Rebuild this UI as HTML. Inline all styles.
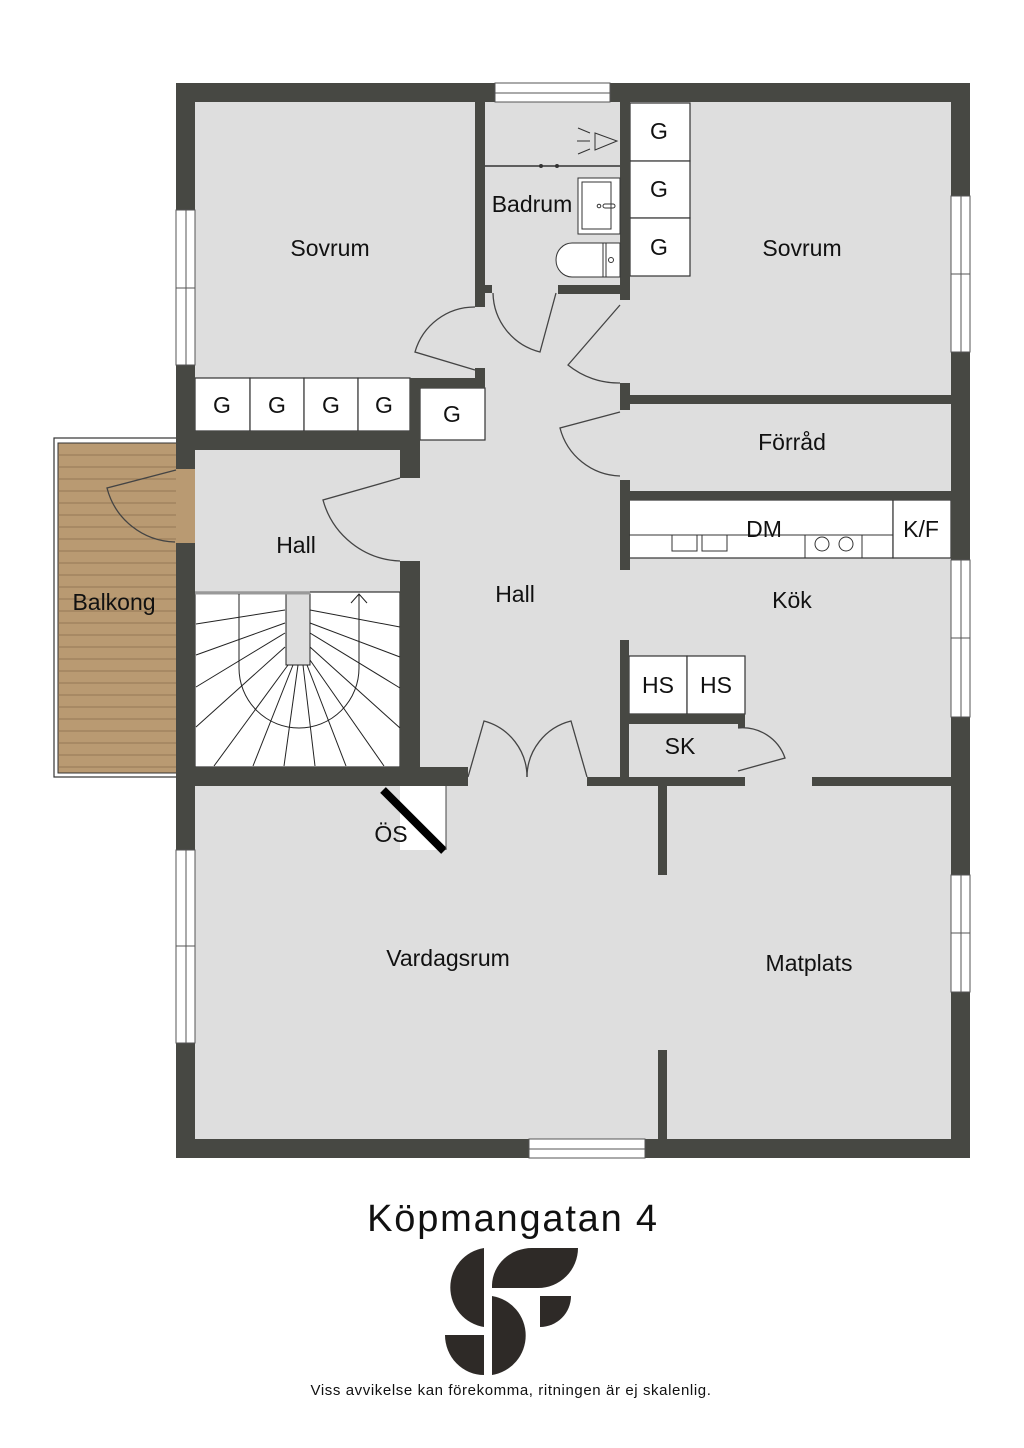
<!DOCTYPE html>
<html><head><meta charset="utf-8"><style>
html,body{margin:0;padding:0;background:#fff;}
svg{display:block}
text{font-family:"Liberation Sans",sans-serif;fill:#111}
</style></head><body>
<svg width="1024" height="1448" viewBox="0 0 1024 1448" xmlns="http://www.w3.org/2000/svg">
<rect width="1024" height="1448" fill="#fff"/>
<!-- balcony -->
<rect x="54" y="438" width="131" height="339" fill="#fff" stroke="#333" stroke-width="1.2"/>
<rect x="58" y="443" width="127" height="330" fill="#b99a72" stroke="#333" stroke-width="1"/>
<g stroke="#8a6d4c" stroke-width="0.8">
<line x1="58" y1="455" x2="185" y2="455"/><line x1="58" y1="467" x2="185" y2="467"/><line x1="58" y1="479" x2="185" y2="479"/><line x1="58" y1="491" x2="185" y2="491"/><line x1="58" y1="503" x2="185" y2="503"/><line x1="58" y1="515" x2="185" y2="515"/><line x1="58" y1="527" x2="185" y2="527"/><line x1="58" y1="539" x2="185" y2="539"/><line x1="58" y1="551" x2="185" y2="551"/><line x1="58" y1="563" x2="185" y2="563"/><line x1="58" y1="575" x2="185" y2="575"/><line x1="58" y1="587" x2="185" y2="587"/><line x1="58" y1="599" x2="185" y2="599"/><line x1="58" y1="611" x2="185" y2="611"/><line x1="58" y1="623" x2="185" y2="623"/><line x1="58" y1="635" x2="185" y2="635"/><line x1="58" y1="647" x2="185" y2="647"/><line x1="58" y1="659" x2="185" y2="659"/><line x1="58" y1="671" x2="185" y2="671"/><line x1="58" y1="683" x2="185" y2="683"/><line x1="58" y1="695" x2="185" y2="695"/><line x1="58" y1="707" x2="185" y2="707"/><line x1="58" y1="719" x2="185" y2="719"/><line x1="58" y1="731" x2="185" y2="731"/><line x1="58" y1="743" x2="185" y2="743"/><line x1="58" y1="755" x2="185" y2="755"/><line x1="58" y1="767" x2="185" y2="767"/>
</g>
<!-- floor -->
<rect x="176" y="83" width="794" height="1075" fill="#dedede"/>
<!-- white items -->
<g fill="#fff" stroke="#333" stroke-width="1.2">
<rect x="195" y="378" width="55" height="53"/><rect x="250" y="378" width="54" height="53"/><rect x="304" y="378" width="54" height="53"/><rect x="358" y="378" width="52" height="53"/>
<rect x="420" y="388" width="65" height="52"/>
<rect x="630" y="103" width="60" height="58"/><rect x="630" y="161" width="60" height="57"/><rect x="630" y="218" width="60" height="58"/>
<rect x="629" y="500" width="264" height="58"/><rect x="893" y="500" width="58" height="58"/>
<rect x="629" y="656" width="58" height="58"/><rect x="687" y="656" width="58" height="58"/>
<rect x="195" y="592" width="205" height="175"/>
<rect x="400" y="786" width="46" height="64" stroke="none"/>
</g>
<!-- walls -->
<g fill="#474843">
<rect x="176" y="83" width="794" height="19"/>
<rect x="176" y="1139" width="794" height="19"/>
<rect x="176" y="83" width="19" height="1075"/>
<rect x="951" y="83" width="19" height="1075"/>
<rect x="475" y="102" width="10" height="205"/>
<rect x="475" y="368" width="10" height="20"/>
<rect x="485" y="285" width="7" height="8"/>
<rect x="558" y="285" width="62" height="9"/>
<rect x="620" y="102" width="10" height="198"/>
<rect x="620" y="383" width="10" height="27"/>
<rect x="620" y="395" width="331" height="9"/>
<rect x="620" y="480" width="10" height="90"/>
<rect x="620" y="491" width="331" height="9"/>
<rect x="410" y="378" width="75" height="10"/>
<rect x="410" y="378" width="10" height="72"/>
<rect x="176" y="431" width="244" height="19"/>
<rect x="400" y="431" width="20" height="47"/>
<rect x="400" y="561" width="20" height="225"/>
<rect x="176" y="767" width="292" height="19"/>
<rect x="587" y="777" width="158" height="9"/>
<rect x="812" y="777" width="139" height="9"/>
<rect x="620" y="640" width="9" height="146"/>
<rect x="629" y="714" width="116" height="10"/>
<rect x="738" y="714" width="7" height="14"/>
<rect x="658" y="786" width="9" height="89"/>
<rect x="658" y="1050" width="9" height="89"/>
</g>
<!-- windows & openings -->
<g fill="#fff" stroke="#555" stroke-width="1">
<rect x="495" y="83" width="115" height="19"/><line x1="495" y1="93" x2="610" y2="93"/>
<rect x="529" y="1139" width="116" height="19"/><line x1="529" y1="1149" x2="645" y2="1149"/>
<rect x="176" y="210" width="19" height="155"/><line x1="186" y1="210" x2="186" y2="365"/><line x1="176" y1="288" x2="195" y2="288"/>
<rect x="176" y="850" width="19" height="193"/><line x1="186" y1="850" x2="186" y2="1043"/><line x1="176" y1="946" x2="195" y2="946"/>
<rect x="951" y="196" width="19" height="156"/><line x1="961" y1="196" x2="961" y2="352"/><line x1="951" y1="274" x2="970" y2="274"/>
<rect x="951" y="560" width="19" height="157"/><line x1="961" y1="560" x2="961" y2="717"/><line x1="951" y1="638" x2="970" y2="638"/>
<rect x="951" y="875" width="19" height="117"/><line x1="961" y1="875" x2="961" y2="992"/><line x1="951" y1="933" x2="970" y2="933"/>
</g>
<rect x="176" y="469" width="19" height="74" fill="#b99a72"/>
<rect x="176" y="450" width="9" height="19" fill="#474843"/>
<!-- doors -->
<g fill="none" stroke="#444" stroke-width="1.3">
<path d="M475,370 L415,352 A62,62 0 0 1 475,307"/>
<path d="M556,293 L540,352 A62,62 0 0 1 493,293"/>
<path d="M620,305 L568,365 A80,80 0 0 0 620,383"/>
<path d="M620,412 L560,428 A64,64 0 0 0 620,476"/>
<path d="M400,478 L323,500 A83,83 0 0 0 400,561"/>
<path d="M176,470 L107,488 A72,72 0 0 0 175,542"/>
<path d="M468,777 L484,721 A58,58 0 0 1 527,777"/>
<path d="M587,777 L571,721 A58,58 0 0 0 527,777"/>
<path d="M738,771 L785,758 A45,45 0 0 0 738,728"/>
</g>
<!-- stairs -->
<g fill="none" stroke="#222" stroke-width="1">
<rect x="286" y="594" width="24" height="71" fill="#dedede"/>
<line x1="195" y1="593" x2="310" y2="593" stroke-width="3" stroke="#999"/>
<path d="M239,594 L239,668 A60,60 0 0 0 359,668 L359,594"/>
<path d="M351,603 L359,594 L367,603"/>
<line x1="285" y1="610" x2="196" y2="624"/><line x1="285" y1="623" x2="196" y2="655"/><line x1="285" y1="633" x2="196" y2="687"/><line x1="285" y1="647" x2="196" y2="727"/>
<line x1="288" y1="665" x2="214" y2="766"/><line x1="293" y1="665" x2="253" y2="766"/><line x1="298" y1="665" x2="284" y2="766"/><line x1="303" y1="665" x2="315" y2="766"/><line x1="307" y1="665" x2="346" y2="766"/><line x1="310" y1="660" x2="384" y2="766"/>
<line x1="310" y1="610" x2="400" y2="627"/><line x1="310" y1="623" x2="400" y2="657"/><line x1="310" y1="633" x2="400" y2="688"/><line x1="310" y1="647" x2="400" y2="728"/>
</g>
<!-- ÖS -->
<line x1="383" y1="790" x2="444" y2="851" stroke="#000" stroke-width="8"/>
<line x1="446" y1="786" x2="446" y2="850" stroke="#444" stroke-width="1"/>
<!-- bathroom fixtures -->
<g fill="none" stroke="#333" stroke-width="1">
<line x1="485" y1="166" x2="620" y2="166" stroke-width="1.5"/>
<circle cx="541" cy="166" r="1.5" fill="#333"/><circle cx="557" cy="166" r="1.5" fill="#333"/>
<path d="M595,133 L595,150 L617,141 Z"/>
<line x1="578" y1="128" x2="590" y2="133"/><line x1="577" y1="141" x2="590" y2="141"/><line x1="578" y1="154" x2="590" y2="149"/>
<rect x="578" y="178" width="42" height="56" fill="#fff"/><rect x="582" y="182" width="29" height="47"/>
<circle cx="599" cy="206" r="1.8"/><rect x="603" y="204" width="12" height="4" rx="2"/>
<path d="M620,243 L572,243 A16,17 0 0 0 572,277 L620,277 Z" fill="#fff"/>
<line x1="603" y1="243" x2="603" y2="277"/><line x1="606" y1="243" x2="606" y2="277"/><circle cx="611" cy="260" r="2.5"/>
<line x1="629" y1="535" x2="893" y2="535"/>
<rect x="672" y="535" width="25" height="16"/><rect x="702" y="535" width="25" height="16"/>
<line x1="805" y1="535" x2="805" y2="558"/><line x1="862" y1="535" x2="862" y2="558"/>
<circle cx="822" cy="544" r="7"/><circle cx="846" cy="544" r="7"/>
</g>
<!-- labels -->
<g font-size="23" text-anchor="middle">
<text x="330" y="256">Sovrum</text>
<text x="532" y="212">Badrum</text>
<text x="802" y="256">Sovrum</text>
<text x="792" y="450">Förråd</text>
<text x="764" y="537">DM</text>
<text x="921" y="537">K/F</text>
<text x="296" y="553">Hall</text>
<text x="515" y="602">Hall</text>
<text x="114" y="610">Balkong</text>
<text x="792" y="608">Kök</text>
<text x="658" y="693">HS</text>
<text x="716" y="693">HS</text>
<text x="680" y="754">SK</text>
<text x="391" y="842">ÖS</text>
<text x="448" y="966">Vardagsrum</text>
<text x="809" y="971">Matplats</text>
<text x="222" y="413">G</text><text x="277" y="413">G</text><text x="331" y="413">G</text><text x="384" y="413">G</text>
<text x="452" y="422">G</text>
<text x="659" y="139">G</text><text x="659" y="197">G</text><text x="659" y="255">G</text>
</g>
<text x="513" y="1231" font-size="38" letter-spacing="1.8" text-anchor="middle">Köpmangatan 4</text>
<!-- logo -->
<g fill="#2e2a27">
<path d="M484,1248 A40,40 0 0 0 484,1327 Z"/>
<path d="M492,1288 L492,1285 A40,38 0 0 1 532,1248 L578,1248 A40,40 0 0 1 538,1288 Z"/>
<path d="M445,1335 L484,1335 L484,1375 A39,40 0 0 1 445,1335 Z"/>
<path d="M492,1296 A40,40 0 0 1 492,1375 Z"/>
<path d="M540,1296 L571,1296 A31,31 0 0 1 540,1327 Z"/>
</g>
<text x="511" y="1395" font-size="15" letter-spacing="0.6" text-anchor="middle">Viss avvikelse kan förekomma, ritningen är ej skalenlig.</text>
</svg>
</body></html>
